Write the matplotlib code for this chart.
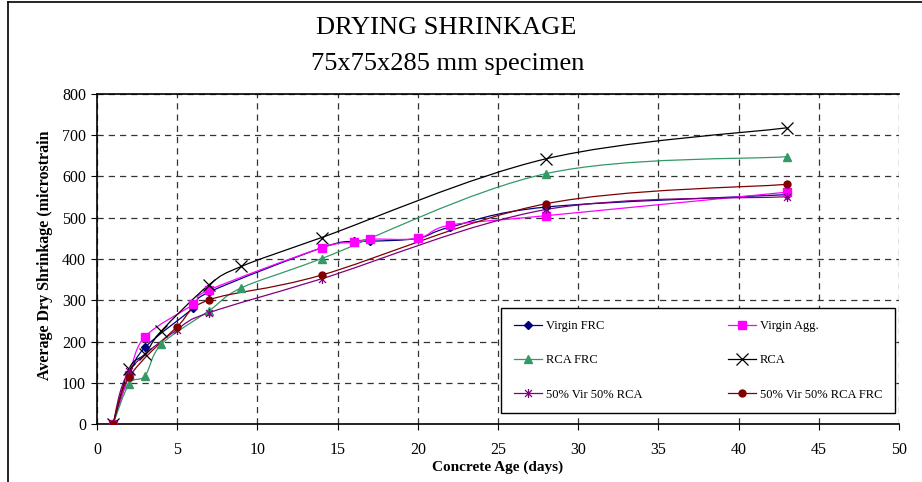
import numpy as np
import matplotlib
matplotlib.use("Agg")
import matplotlib.pyplot as plt
from matplotlib.path import Path
from matplotlib.patches import PathPatch
from matplotlib.lines import Line2D

plt.rcParams['font.family'] = ['Liberation Serif', 'DejaVu Serif']

# ---- data (concrete age in days, shrinkage in microstrain) ----
days_virgin = [1, 2, 3, 6, 7, 14, 16, 17, 20, 22, 28, 43]
virgin_frc = [0, 118, 186, 281, 320, 427, 443, 443, 450, 477, 526, 556]
virgin_agg = [0, 120, 212, 290, 325, 427, 440, 448, 450, 482, 505, 562]

days_rca = [1, 2, 3, 4, 7, 9, 14, 28, 43]
rca_frc = [0, 97, 117, 193, 275, 330, 401, 607, 648]
rca = [0, 134, 170, 225, 338, 382, 452, 643, 718]

days_mix = [1, 2, 5, 7, 14, 28, 43]
mix_rca = [0, 128, 229, 270, 352, 520, 551]
mix_rca_frc = [0, 114, 236, 301, 361, 534, 581]

labels = ["Virgin FRC", "Virgin Agg.", "RCA FRC", "RCA",
          "50% Vir 50% RCA", "50% Vir 50% RCA FRC"]

x_ticks = list(range(0, 51, 5))
y_ticks = list(range(0, 801, 100))

# asterisk marker: an x crossed by a vertical stroke
star_path = Path(
    [(-1, -1), (1, 1), (-1, 1), (1, -1), (0, -1.3), (0, 1.3)],
    [Path.MOVETO, Path.LINETO, Path.MOVETO, Path.LINETO, Path.MOVETO, Path.LINETO])

series = [
    (days_virgin, virgin_frc, "#000080", dict(marker="D", ms=4.5)),
    (days_virgin, virgin_agg, "#FF00FF", dict(marker="s", ms=5.5)),
    (days_rca, rca_frc, "#339966", dict(marker="^", ms=6)),
    (days_rca, rca, "#000000", dict(marker="x", ms=9, mew=0.9)),
    (days_mix, mix_rca, "#800080", dict(marker=star_path, ms=6.5, mew=0.9, mfc="none")),
    (days_mix, mix_rca_frc, "#800000", dict(marker="o", ms=5)),
]


def smooth_path(xs, ys):
    """Cubic Bezier path through the points (Catmull-Rom style tangents)."""
    pts = np.column_stack([xs, ys]).astype(float)
    n = len(pts)
    verts = [pts[0]]
    codes = [Path.MOVETO]
    for i in range(n - 1):
        p0 = pts[i - 1] if i > 0 else pts[i]
        p1 = pts[i]
        p2 = pts[i + 1]
        p3 = pts[i + 2] if i + 2 < n else pts[i + 1]
        c1 = p1 + (p2 - p0) / 6.0
        c2 = p2 - (p3 - p1) / 6.0
        verts += [c1, c2, p2]
        codes += [Path.CURVE4] * 3
    return Path(verts, codes)


fig = plt.figure(figsize=(9.22, 4.82), dpi=100)
ax = fig.add_axes([97 / 922, 1 - 424 / 482, (899 - 97) / 922, (424 - 94) / 482])

ax.set_xlim(0, 50)
ax.set_ylim(0, 800)
ax.set_xticks(x_ticks)
ax.set_yticks(y_ticks)
ax.tick_params(direction="out", length=4, width=0.8, labelsize=11.5, pad=4)
ax.tick_params(axis="x", pad=9)

ax.grid(True, color="#333333", linestyle=(0, (5, 4)), linewidth=0.9)
ax.set_axisbelow(True)
for side in ["left", "bottom", "top"]:
    ax.spines[side].set_linewidth(1.2)
    ax.spines[side].set_color("black")
ax.spines["right"].set_visible(False)

handles = []
for (xs, ys, color, mk), label in zip(series, labels):
    patch = PathPatch(smooth_path(xs, ys), facecolor="none", edgecolor=color,
                      linewidth=0.9, zorder=3)
    ax.add_patch(patch)
    ax.plot(xs, ys, linestyle="none", color=color, zorder=4,
            markeredgecolor=color, **mk)
    handles.append(Line2D([0], [0], color=color, linewidth=0.9,
                          markeredgecolor=color, **mk))

order = [0, 2, 4, 1, 3, 5]
leg = ax.legend([handles[i] for i in order], [labels[i] for i in order],
                ncol=2, loc="lower right", bbox_to_anchor=(895 / 922, 1 - 413 / 482),
                bbox_transform=fig.transFigure, fontsize=9, frameon=True,
                fancybox=False, edgecolor="black", framealpha=1,
                handlelength=2.3, handletextpad=0.3, columnspacing=6.8,
                labelspacing=1.78, borderpad=1.0, borderaxespad=0)
leg.get_frame().set_linewidth(1.0)

ax.set_xlabel("Concrete Age (days)", fontsize=11, fontweight="bold", labelpad=2)
fig.text(45 / 922, 1 - 255 / 482, "Average Dry Shrinkage (microstrain",
         rotation=90, ha="center", va="center", fontsize=11.5, fontweight="bold")

fig.text(446 / 922, 1 - 28.5 / 482, "DRYING SHRINKAGE", ha="center", va="center",
         fontsize=19)
fig.text(448 / 922, 1 - 64 / 482, "75x75x285 mm specimen", ha="center",
         va="center", fontsize=19)

# outer chart frame
fig.add_artist(Line2D([8 / 922, 8 / 922], [0, 1 - 1.5 / 482], transform=fig.transFigure,
                      color="black", linewidth=1.2))
fig.add_artist(Line2D([8 / 922, 1], [1 - 1.5 / 482, 1 - 1.5 / 482],
                      transform=fig.transFigure, color="black", linewidth=1.2))

fig.savefig("out.png", dpi=100)
